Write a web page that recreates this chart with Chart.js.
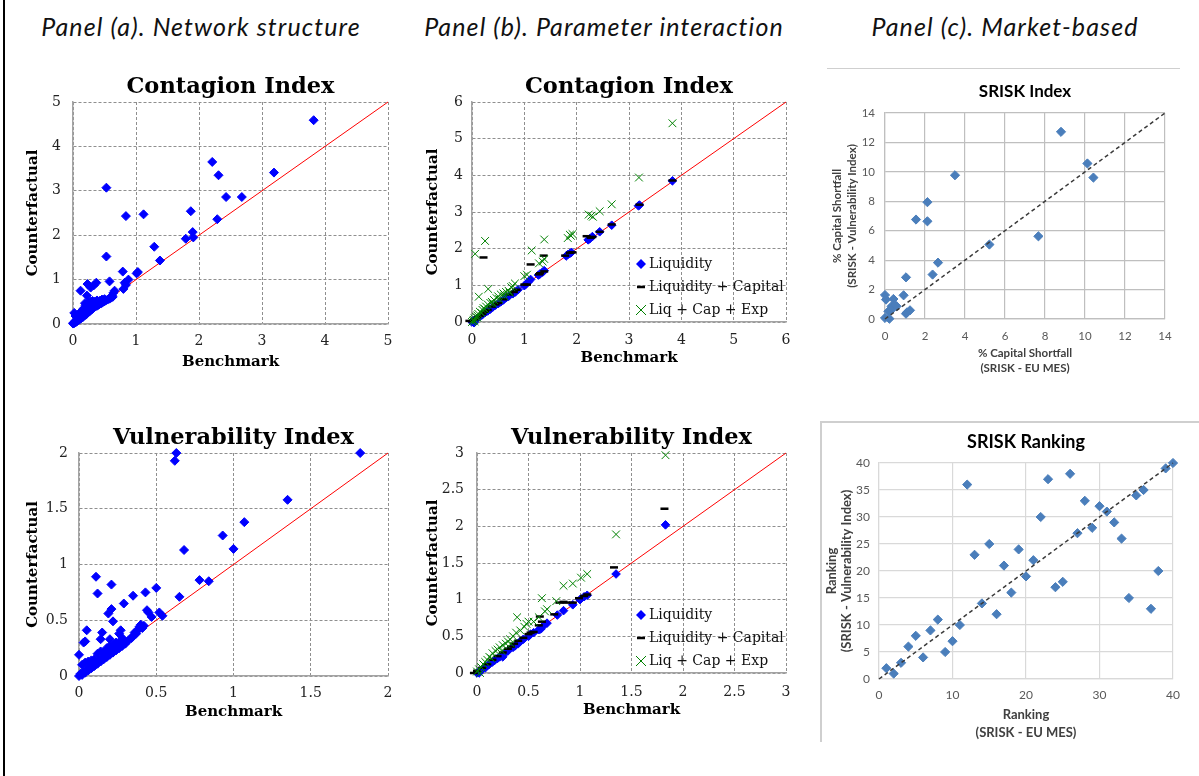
<!DOCTYPE html>
<html>
<head>
<meta charset="utf-8">
<script src="https://cdn.jsdelivr.net/npm/chart.js@4.4.1/dist/chart.umd.min.js"></script>
<style>
  html, body { margin: 0; padding: 0; background: #fff; overflow: hidden; }
  #page { position: relative; width: 1199px; height: 776px; }
  .ptitle { position: absolute; top: 26px; font-family: Lato, 'Open Sans', sans-serif; font-style: italic;
            font-size: 25px; letter-spacing: 1.1px; white-space: nowrap; color: #111;
            transform: translate(-50%, -50%); }
  canvas { position: absolute; }
  .rule { position: absolute; background: #cfcfcf; }
</style>
</head>
<body>
<div id="page">
  <div class="rule" style="left:3px;top:0;width:2px;height:776px;background:#000"></div>
  <div class="rule" style="left:827px;top:68px;width:353px;height:1px"></div>
  <div class="rule" style="left:820px;top:421px;width:379px;height:2px"></div>
  <div class="rule" style="left:820px;top:421px;width:2px;height:321px"></div>

  <span class="ptitle" style="left:201px">Panel (a). Network structure</span>
  <span class="ptitle" style="left:604px">Panel (b). Parameter interaction</span>
  <span class="ptitle" style="left:1005px">Panel (c). Market-based</span>

  <canvas id="netContagion"></canvas>
  <canvas id="netVuln"></canvas>
  <canvas id="parContagion"></canvas>
  <canvas id="parVuln"></canvas>
  <canvas id="srIndex"></canvas>
  <canvas id="srRank"></canvas>
</div>
<script>
// ---- axis ranges: [min, max, step] ----
const netContagionRange = [0, 5, 1];
const netVulnRange = [0, 2, 0.5];
const parContagionRange = [0, 6, 1];
const parVulnRange = [0, 3, 0.5];
const srIndexRange = [0, 14, 2];
const srRankXRange = [0, 40, 10];
const srRankYRange = [0, 40, 5];

// ---- panel (a): benchmark vs counterfactual ----
const netContagion = [
  [3.82,4.59],[2.21,3.65],[2.31,3.35],[3.19,3.41],[2.43,2.86],[2.68,2.86],[2.29,2.36],
  [0.53,3.07],[0.84,2.43],[1.12,2.47],[1.87,2.54],[1.90,2.07],[1.79,1.92],[1.91,1.95],
  [1.29,1.74],[1.38,1.43],[0.53,1.52],[1.03,1.17],[1.01,1.14],[0.79,1.18],[0.58,0.96],
  [0.88,1.00],[0.82,0.93],[0.80,0.79],[0.84,0.88],[0.12,0.75],[0.23,0.90],[0.33,0.87],
  [0.37,0.93],[0.28,0.82],[0.22,0.64],[0.64,0.70],[0.66,0.75],[0.62,0.64],
  [0.00,0.01],[0.01,0.03],[0.02,0.02],[0.03,0.06],[0.04,0.04],[0.05,0.05],[0.06,0.08],
  [0.07,0.07],[0.08,0.10],[0.09,0.09],[0.10,0.12],[0.11,0.11],[0.12,0.14],[0.13,0.13],
  [0.14,0.16],[0.15,0.17],[0.16,0.16],[0.17,0.20],[0.18,0.19],[0.19,0.22],[0.20,0.21],
  [0.21,0.25],[0.22,0.23],[0.23,0.27],[0.24,0.26],[0.25,0.30],[0.26,0.28],[0.27,0.32],
  [0.28,0.31],[0.29,0.34],[0.30,0.33],[0.32,0.36],[0.34,0.38],[0.36,0.40],[0.38,0.41],
  [0.40,0.43],[0.42,0.45],[0.44,0.46],[0.46,0.48],[0.48,0.50],[0.50,0.51],[0.52,0.53],
  [0.55,0.55],[0.58,0.57],[0.60,0.59],[0.63,0.61],
  [0.02,0.25],[0.04,0.18],[0.07,0.20],[0.10,0.22],[0.14,0.30],[0.17,0.35],[0.19,0.47],
  [0.20,0.42],[0.22,0.45],[0.25,0.48],[0.28,0.50],[0.31,0.52],[0.34,0.50],[0.38,0.53],
  [0.42,0.52],[0.46,0.55],[0.50,0.56],[0.12,0.26],[0.16,0.28],[0.21,0.36],[0.24,0.40],
  [0.27,0.44],[0.30,0.46],[0.33,0.47],[0.36,0.48],[0.40,0.50]
];
const netVuln = [
  [1.82,2.00],[0.63,2.00],[0.62,1.93],[1.35,1.58],[1.07,1.38],[0.93,1.26],[1.00,1.14],
  [0.68,1.13],[0.11,0.89],[0.21,0.82],[0.12,0.74],[0.78,0.86],[0.84,0.85],[0.50,0.79],
  [0.43,0.75],[0.35,0.72],[0.29,0.65],[0.65,0.71],[0.21,0.60],[0.19,0.56],[0.22,0.49],
  [0.44,0.59],[0.45,0.57],[0.47,0.53],[0.52,0.57],[0.54,0.54],[0.05,0.41],[0.03,0.30],
  [0.04,0.31],[0.00,0.19],[0.15,0.39],[0.14,0.33],[0.20,0.33],[0.27,0.41],[0.26,0.38],
  [0.28,0.34],[0.35,0.36],[0.37,0.38],[0.38,0.41],[0.39,0.44],[0.40,0.46],[0.41,0.43],
  [0.42,0.45],[0.36,0.39],
  [0.00,0.00],[0.01,0.02],[0.02,0.01],[0.03,0.04],[0.04,0.03],[0.05,0.06],[0.06,0.05],
  [0.07,0.08],[0.08,0.07],[0.09,0.10],[0.10,0.09],[0.11,0.12],[0.12,0.11],[0.13,0.14],
  [0.14,0.13],[0.15,0.16],[0.16,0.15],[0.17,0.18],[0.18,0.17],[0.19,0.20],[0.20,0.19],
  [0.21,0.22],[0.22,0.21],[0.23,0.24],[0.24,0.23],[0.25,0.26],[0.26,0.25],[0.27,0.28],
  [0.28,0.27],[0.29,0.30],[0.30,0.29],[0.32,0.32],[0.34,0.34],[0.02,0.10],[0.04,0.12],
  [0.06,0.13],[0.08,0.14],[0.10,0.15],[0.12,0.20],[0.14,0.22],[0.16,0.21],[0.18,0.25],
  [0.20,0.27],[0.22,0.28],[0.24,0.30],[0.26,0.30]
];

// ---- panel (b): three parameter sets ----
const parContagionLiq = [
  [3.83,3.85],[3.20,3.19],[3.18,3.17],[2.67,2.64],[2.44,2.46],[2.30,2.33],[2.25,2.27],
  [2.22,2.24],[1.90,1.90],[1.87,1.87],[1.83,1.84],[1.80,1.80],[1.38,1.40],[1.35,1.36],
  [1.30,1.31],[1.27,1.28],[1.12,1.16],[1.08,1.10],[1.03,1.03],[1.00,0.99],[0.88,0.88],
  [0.83,0.82],[0.78,0.77],[0.70,0.70],[0.65,0.66],[0.60,0.60],[0.55,0.55],[0.50,0.50],
  [0.45,0.46],[0.40,0.41],[0.35,0.35],[0.30,0.30],[0.25,0.26],[0.20,0.20],[0.15,0.15],
  [0.10,0.10],[0.05,0.05],[0.02,0.02],[0.00,0.00],[0.04,-0.02]
];
const parContagionCap = [
  [3.83,3.86],[3.20,3.20],[2.67,2.66],[2.44,2.46],[2.19,2.34],[2.30,2.32],[2.27,2.30],
  [1.87,1.89],[1.92,1.90],[1.78,1.81],[1.37,1.81],[1.12,1.57],[0.22,1.76],[1.38,1.38],
  [1.30,1.33],[1.28,1.30],[1.05,1.02],[1.00,1.02],[0.85,0.88],[0.80,0.82],[0.72,0.75],
  [0.60,0.62],[0.50,0.52],[0.45,0.48],[0.38,0.42],[0.30,0.33],[0.25,0.28],[0.20,0.22],
  [0.15,0.17],[0.10,0.12],[0.05,0.07],[0.00,0.02],[-0.05,0.03]
];
const parContagionExp = [
  [3.83,5.42],[3.19,3.94],[2.67,3.21],[2.44,3.02],[2.23,2.93],[2.31,2.87],[2.28,2.90],
  [1.87,2.38],[1.89,2.35],[1.83,2.29],[1.92,2.40],[1.38,2.25],[1.14,1.95],[1.35,1.65],
  [1.38,1.72],[1.28,1.60],[1.05,1.29],[1.00,1.25],[0.25,2.21],[0.06,1.86],[0.31,0.90],
  [0.13,0.69],[0.82,1.05],[0.78,0.98],[0.75,0.95],[0.70,0.85],[0.65,0.82],[0.60,0.78],
  [0.55,0.75],[0.50,0.70],[0.47,0.65],[0.42,0.60],[0.38,0.55],[0.35,0.52],[0.30,0.48],
  [0.27,0.42],[0.22,0.38],[0.20,0.33],[0.15,0.28],[0.12,0.22],[0.10,0.18],[0.08,0.14],
  [0.05,0.10],[0.03,0.06],[0.02,0.03],[0.00,0.00],[0.05,0.02],[0.10,0.12],[0.18,0.25],
  [0.25,0.35],[0.40,0.50],[0.52,0.62],[0.62,0.70],[0.72,0.80]
];
const parVulnLiq = [
  [1.83,2.02],[1.35,1.35],[1.07,1.06],[1.04,1.04],[1.00,1.00],[0.93,0.93],[0.84,0.85],
  [0.78,0.79],[0.68,0.68],[0.65,0.65],[0.62,0.60],[0.60,0.59],[0.55,0.55],[0.52,0.53],
  [0.50,0.50],[0.45,0.46],[0.42,0.43],[0.40,0.40],[0.37,0.37],[0.35,0.35],[0.30,0.30],
  [0.27,0.27],[0.25,0.22],[0.22,0.22],[0.20,0.20],[0.17,0.17],[0.15,0.15],[0.12,0.12],
  [0.10,0.10],[0.08,0.07],[0.05,0.05],[0.03,0.03],[0.02,0.00],[0.00,0.00]
];
const parVulnCap = [
  [1.82,2.24],[1.33,1.44],[1.07,1.07],[1.04,1.05],[0.99,1.02],[0.93,0.96],[0.84,0.97],
  [0.80,0.96],[0.87,0.96],[0.75,0.80],[0.61,0.77],[0.63,0.70],[0.60,0.65],[0.55,0.56],
  [0.52,0.55],[0.50,0.53],[0.45,0.48],[0.40,0.44],[0.36,0.40],[0.33,0.36],[0.30,0.33],
  [0.25,0.28],[0.20,0.23],[0.15,0.18],[0.10,0.12],[0.05,0.07],[0.00,0.03],[-0.03,0.00]
];
const parVulnExp = [
  [1.83,2.97],[1.35,1.89],[1.07,1.35],[1.01,1.30],[0.93,1.22],[0.84,1.19],[0.77,0.98],
  [0.68,0.87],[0.66,0.84],[0.63,1.02],[0.60,0.76],[0.55,0.70],[0.50,0.70],[0.48,0.67],
  [0.46,0.63],[0.39,0.76],[0.42,0.58],[0.38,0.55],[0.35,0.50],[0.32,0.46],[0.30,0.43],
  [0.28,0.40],[0.25,0.38],[0.22,0.35],[0.20,0.32],[0.18,0.30],[0.15,0.27],[0.12,0.22],
  [0.10,0.18],[0.08,0.15],[0.06,0.12],[0.04,0.08],[0.02,0.05],[0.00,0.02],[0.03,0.00],
  [0.14,0.20],[0.24,0.30],[0.33,0.40]
];

// ---- panel (c): SRISK comparison ----
const srIndex = [
  [8.80,12.72],[10.12,10.57],[10.42,9.61],[3.50,9.77],[2.12,7.94],[1.55,6.76],[2.12,6.64],
  [5.22,5.06],[7.67,5.62],[2.65,3.83],[2.38,3.02],[1.05,2.83],[0.93,1.61],[0.00,1.63],
  [0.05,1.32],[0.42,1.36],[0.33,0.86],[0.58,0.86],[0.50,0.95],[1.05,0.36],[1.10,0.45],
  [1.25,0.59],[0.17,0.52],[0.00,0.07],[0.22,0.02],[0.30,0.60]
];
const srRank = [
  [1,2],[2,1],[3,3],[4,6],[5,8],[6,4],[7,9],[8,11],[9,5],[10,7],[11,10],[12,36],[13,23],
  [14,14],[15,25],[16,12],[17,21],[18,16],[19,24],[20,19],[21,22],[22,30],[23,37],[24,17],
  [25,18],[26,38],[27,27],[28,33],[29,28],[30,32],[31,31],[32,29],[33,26],[34,15],[35,34],
  [36,35],[37,13],[38,20],[39,39],[40,40]
];

const SERIF = "'DejaVu Serif', 'Liberation Serif', serif";
const SANS = "Lato, 'Open Sans', sans-serif";
const pts = a => a.map(p => ({x: p[0], y: p[1]}));
const diag = r => [{x: r[0], y: r[0]}, {x: r[1], y: r[1]}];
const plainNum = v => String(+v.toFixed(2));

// keeps axis sizes fixed so the plot areas land where the reference has them
function fixedAxis(w, h) {
  return function (s) {
    if (w != null) s.width = w;
    if (h != null) s.height = h;
    s.paddingLeft = s.paddingRight = s.paddingTop = s.paddingBottom = 0;
  };
}

function place(el, b) {
  const left = b.l - b.yw, top = b.t - b.th;
  const w = b.r + b.pr - left, h = b.b + b.xh - top;
  el.width = w; el.height = h;
  el.style.left = left + 'px'; el.style.top = top + 'px';
  el.style.width = w + 'px'; el.style.height = h + 'px';
}

// legend drawn inside the plot area (lower right), like the original
const insideLegend = {
  id: 'insideLegend',
  afterDatasetsDraw(chart, args, o) {
    const {ctx, chartArea} = chart;
    ctx.save();
    ctx.font = o.font;
    ctx.textBaseline = 'middle';
    ctx.fillStyle = '#111';
    let row = 0;
    chart.data.datasets.forEach(ds => {
      if (!ds.label) return;
      const x = chartArea.left + o.x, y = chartArea.top + o.y + row * o.rowH;
      ctx.save();
      if (ds.pointStyle === 'rectRot') {
        ctx.fillStyle = ds.backgroundColor;
        ctx.beginPath();
        ctx.moveTo(x - 5, y); ctx.lineTo(x, y - 5); ctx.lineTo(x + 5, y); ctx.lineTo(x, y + 5);
        ctx.closePath(); ctx.fill();
      } else if (ds.pointStyle === 'line') {
        ctx.fillStyle = ds.borderColor;
        ctx.fillRect(x - 4, y - 1.25, 8, 2.5);
      } else {
        ctx.strokeStyle = ds.borderColor; ctx.lineWidth = 1;
        ctx.beginPath();
        ctx.moveTo(x - 5, y - 5); ctx.lineTo(x + 5, y + 5);
        ctx.moveTo(x - 5, y + 5); ctx.lineTo(x + 5, y - 5);
        ctx.stroke();
      }
      ctx.restore();
      ctx.fillText(ds.label, x + 8, y);
      row++;
    });
    ctx.restore();
  }
};

function serifScale(r, text, pad, w, h) {
  return {
    type: 'linear', min: r[0], max: r[1],
    ticks: {stepSize: r[2], padding: pad, color: '#222', font: {family: SERIF, size: 14}, callback: plainNum},
    grid: {color: '#8f8f8f', lineWidth: 1, drawTicks: false},
    border: {color: '#a3a3a3', width: 1.5, dash: [3, 2]},
    title: {display: true, text, color: '#000',
      font: {family: SERIF, size: 15, weight: 'bold', lineHeight: '16px'},
      padding: {top: 0, bottom: 2}},
    afterFit: fixedAxis(w, h)
  };
}

function serifChart(id, box, xr, yr, title, datasets, legend) {
  const el = document.getElementById(id);
  place(el, box);
  return new Chart(el, {
    type: 'scatter',
    data: {datasets},
    options: {
      responsive: false, animation: false, events: [],
      layout: {padding: {left: 0, top: 0, right: box.pr, bottom: 0}},
      plugins: {
        legend: {display: false}, tooltip: {enabled: false},
        title: {display: true, text: title, fullSize: false, color: '#000',
          font: {family: SERIF, size: 22.5, weight: 'bold', lineHeight: '26px'},
          padding: {top: 0, bottom: 2}},
        insideLegend: legend || {}
      },
      scales: {
        x: serifScale(xr, 'Benchmark', box.xpad, null, box.xh),
        y: serifScale(yr, 'Counterfactual', box.ypad, box.yw, null)
      }
    },
    plugins: legend ? [insideLegend] : []
  });
}

const redLine = r => ({type: 'line', data: diag(r), borderColor: '#ff0000', borderWidth: 1,
  pointRadius: 0, clip: false, order: 10});
const liqSet = (data, label, r) => ({label, data: pts(data), pointStyle: 'rectRot', pointRadius: r,
  backgroundColor: '#0000ff', borderColor: '#0000ff', borderWidth: 1, clip: false, order: 3});
const capSet = data => ({label: 'Liquidity + Capital', data: pts(data), pointStyle: 'line', pointRadius: 4,
  borderColor: '#000', backgroundColor: '#000', borderWidth: 2.5, clip: false, order: 2});
const expSet = data => ({label: 'Liq + Cap + Exp', data: pts(data), pointStyle: 'crossRot', pointRadius: 5.5,
  borderColor: '#008000', backgroundColor: '#008000', borderWidth: 1, clip: false, order: 1});

const legendOpts = {x: 169, y: 162, rowH: 23, font: '14px ' + SERIF};

serifChart('netContagion', {l: 73, t: 102, r: 388, b: 324, yw: 48, th: 28, xh: 48, pr: 10, xpad: 9, ypad: 12},
  netContagionRange, netContagionRange, 'Contagion Index',
  [liqSet(netContagion, '', 4.5), redLine(netContagionRange)]);

serifChart('netVuln', {l: 79, t: 453, r: 388, b: 676, yw: 54, th: 28, xh: 46, pr: 10, xpad: 9, ypad: 11},
  netVulnRange, netVulnRange, 'Vulnerability Index',
  [liqSet(netVuln, '', 4.5), redLine(netVulnRange)]);

serifChart('parContagion', {l: 472, t: 102, r: 786, b: 322, yw: 47, th: 28, xh: 46, pr: 10, xpad: 10, ypad: 9},
  parContagionRange, parContagionRange, 'Contagion Index',
  [liqSet(parContagionLiq, 'Liquidity', 4.3), capSet(parContagionCap), expSet(parContagionExp),
   redLine(parContagionRange)], legendOpts);

serifChart('parVuln', {l: 477, t: 453, r: 786, b: 673, yw: 52, th: 28, xh: 47, pr: 10, xpad: 11, ypad: 13},
  parVulnRange, parVulnRange, 'Vulnerability Index',
  [liqSet(parVulnLiq, 'Liquidity', 4.3), capSet(parVulnCap), expSet(parVulnExp),
   redLine(parVulnRange)], Object.assign({}, legendOpts, {x: 164}));

// ---- panel (c) ----
function sansScale(r, text, pad, w, h, st) {
  return {
    type: 'linear', min: r[0], max: r[1],
    ticks: {stepSize: r[2], padding: pad, color: '#595959', font: {family: SANS, size: st.tick}},
    grid: {color: st.grid, lineWidth: 1.2, drawTicks: false},
    border: {color: st.grid, width: 1.2},
    title: {display: true, text, color: '#404040',
      font: {family: SANS, size: st.axis, weight: 'bold', lineHeight: (h ? st.xlh : 15) + 'px'},
      padding: {top: 0, bottom: h ? st.xpb : 0}},
    afterFit: fixedAxis(w, h)
  };
}

function sansChart(id, box, xr, yr, title, data, xTitle, yTitle, st) {
  const el = document.getElementById(id);
  place(el, box);
  return new Chart(el, {
    type: 'scatter',
    data: {datasets: [
      {data: pts(data), pointStyle: 'rectRot', pointRadius: 4.6, backgroundColor: '#4a7ebb',
       borderColor: '#4a7ebb', borderWidth: 1, clip: false, order: 2},
      {type: 'line', data: diag(xr), borderColor: '#3a3a3a', borderWidth: 1.5, borderDash: [4, 3],
       pointRadius: 0, clip: false, order: 1}
    ]},
    options: {
      responsive: false, animation: false, events: [],
      layout: {padding: {left: 0, top: 0, right: box.pr, bottom: 0}},
      plugins: {
        legend: {display: false}, tooltip: {enabled: false},
        title: {display: true, text: title, fullSize: false, color: '#000',
          font: {family: SANS, size: st.title, weight: 'bold', lineHeight: '20px'},
          padding: {top: 0, bottom: 11}}
      },
      scales: {
        x: sansScale(xr, xTitle, box.xpad, null, box.xh, st),
        y: sansScale(yr, yTitle, box.ypad, box.yw, null, st)
      }
    }
  });
}

sansChart('srIndex', {l: 885, t: 113, r: 1165, b: 319, yw: 55, th: 31, xh: 58, pr: 10, xpad: 10, ypad: 10},
  srIndexRange, srIndexRange, 'SRISK Index', srIndex,
  ['% Capital Shortfall', '(SRISK - EU MES)'], ['% Capital Shortfall', '(SRISK - Vulnerability Index)'],
  {grid: '#bfbfbf', tick: 11.5, axis: 11.5, title: 17, xlh: 15, xpb: 1.5});

sansChart('srRank', {l: 879, t: 463, r: 1173, b: 679, yw: 55, th: 31, xh: 64, pr: 10, xpad: 9, ypad: 9},
  srRankXRange, srRankYRange, 'SRISK Ranking', srRank,
  ['Ranking', '(SRISK - EU MES)'], ['Ranking', '(SRISK - Vulnerability Index)'],
  {grid: '#d9d9d9', tick: 12, axis: 13, title: 18, xlh: 18, xpb: 1});
</script>
</body>
</html>
